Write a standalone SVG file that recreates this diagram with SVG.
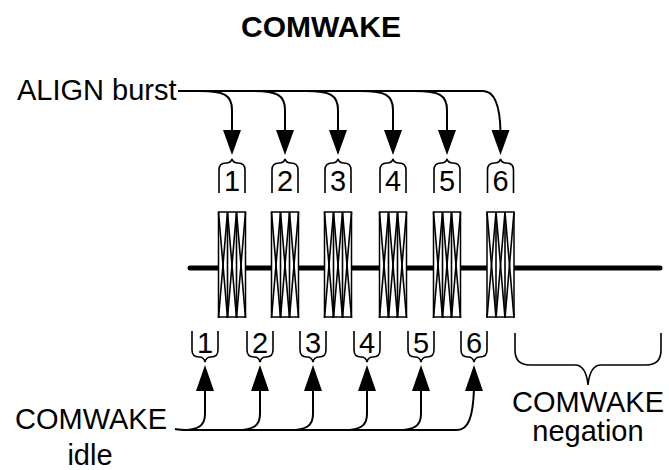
<svg xmlns="http://www.w3.org/2000/svg" width="669" height="470" viewBox="0 0 669 470">
<defs>
<style>
.t{font-family:"Liberation Sans",Arial,sans-serif;fill:#000}
.ttl{font-size:30px;font-weight:bold}
.lbl{font-size:29px}
.num{font-size:29px;text-anchor:middle}
.c{fill:none;stroke:#000;stroke-width:2}
.br{fill:none;stroke:#000;stroke-width:1.6}
.blk{fill:#fff;stroke:#000;stroke-width:1.5}
.zz{fill:none;stroke:#000;stroke-width:1.6;stroke-linejoin:miter}
.ah{fill:#000}
</style>
<g id="burst">
<rect class="blk" x="0" y="0" width="27" height="105"/>
<polyline class="zz" points="0,0 9,106 18,0 27,106"/>
<polyline class="zz" points="0,106 9,0 18,106 27,0"/>
<line class="zz" x1="9" y1="0" x2="9" y2="106"/>
<line class="zz" x1="18" y1="0" x2="18" y2="106"/>
</g>
<path id="tb" class="br" d="M-13,193 V170 Q-13,163 -6,163 Q-1,163 0,159 Q1,163 6,163 Q13,163 13,170 V193"/>
<path id="bb" class="br" d="M-13,331 V350 Q-13,357 -6,357 Q-1,357 0,362 Q1,357 6,357 Q13,357 13,350 V331"/>
<path id="da" class="ah" d="M-9,130 L9,130 L0,155 Z"/>
<path id="ua" class="ah" d="M-9,391 L9,391 L0,365 Z"/>
</defs>

<text class="t ttl" x="321" y="37" text-anchor="middle">COMWAKE</text>

<g id="align-burst"><text class="t lbl" x="17" y="100">ALIGN burst</text></g>
<g id="comwake-idle"><text class="t lbl" x="91" y="429" text-anchor="middle">COMWAKE</text><text class="t lbl" x="90" y="465" text-anchor="middle">idle</text></g>
<g id="comwake-negation">
<path class="br" d="M515,333 V350 Q515,365 530,365 H575 Q586,365 588,385 Q590,365 601,365 H646 Q661,365 661,350 V333"/>
<text class="t lbl" x="588" y="412" text-anchor="middle">COMWAKE</text>
<text class="t lbl" x="588" y="441" text-anchor="middle">negation</text>
</g>

<g id="line"><line x1="190" y1="268" x2="660" y2="268" stroke="#000" stroke-width="5" stroke-linecap="round"/></g>

<g id="bursts">
<g id="burst1"><use href="#burst" x="218.5" y="212"/></g>
<g id="burst2"><use href="#burst" x="271.5" y="212"/></g>
<g id="burst3"><use href="#burst" x="324.5" y="212"/></g>
<g id="burst4"><use href="#burst" x="379.5" y="212"/></g>
<g id="burst5"><use href="#burst" x="433.5" y="212"/></g>
<g id="burst6"><use href="#burst" x="487" y="212"/></g>
</g>

<g id="top-labels">
<g id="t1"><use href="#tb" x="232"/><text class="t num" x="232" y="191">1</text></g>
<g id="t2"><use href="#tb" x="285"/><text class="t num" x="285" y="191">2</text></g>
<g id="t3"><use href="#tb" x="338"/><text class="t num" x="338" y="191">3</text></g>
<g id="t4"><use href="#tb" x="393"/><text class="t num" x="393" y="191">4</text></g>
<g id="t5"><use href="#tb" x="447"/><text class="t num" x="447" y="191">5</text></g>
<g id="t6"><use href="#tb" x="500.5"/><text class="t num" x="500.5" y="191">6</text></g>
</g>

<g id="bottom-labels">
<g id="b1"><use href="#bb" x="205"/><text class="t num" x="205" y="353">1</text></g>
<g id="b2"><use href="#bb" x="260"/><text class="t num" x="260" y="353">2</text></g>
<g id="b3"><use href="#bb" x="313"/><text class="t num" x="313" y="353">3</text></g>
<g id="b4"><use href="#bb" x="367"/><text class="t num" x="367" y="353">4</text></g>
<g id="b5"><use href="#bb" x="421"/><text class="t num" x="421" y="353">5</text></g>
<g id="b6"><use href="#bb" x="474"/><text class="t num" x="474" y="353">6</text></g>
</g>

<g id="connectors">
<path class="c" d="M178,91 H483"/>
<path class="c" d="M200,91 C224,91 232,95 232,110 V132"/>
<path class="c" d="M253,91 C277,91 285,95 285,110 V132"/>
<path class="c" d="M306,91 C330,91 338,95 338,110 V132"/>
<path class="c" d="M361,91 C385,91 393,95 393,110 V132"/>
<path class="c" d="M415,91 C439,91 447,95 447,110 V132"/>
<path class="c" d="M483,91 C494,91 500,105 500.5,132"/>
<use href="#da" x="232"/><use href="#da" x="285"/><use href="#da" x="338"/>
<use href="#da" x="393"/><use href="#da" x="447"/><use href="#da" x="500.5"/>

<path class="c" d="M175,429 Q180,430 190,430 H457"/>
<path class="c" d="M205,389 V414 C205,426 198,430 182,430"/>
<path class="c" d="M260,389 V414 C260,426 253,430 237,430"/>
<path class="c" d="M313,389 V414 C313,426 306,430 290,430"/>
<path class="c" d="M367,389 V414 C367,426 360,430 344,430"/>
<path class="c" d="M421,389 V414 C421,426 414,430 398,430"/>
<path class="c" d="M457,430 C468,430 473,418 474,389"/>
<use href="#ua" x="205"/><use href="#ua" x="260"/><use href="#ua" x="313"/>
<use href="#ua" x="367"/><use href="#ua" x="421"/><use href="#ua" x="474"/>
</g>
</svg>
